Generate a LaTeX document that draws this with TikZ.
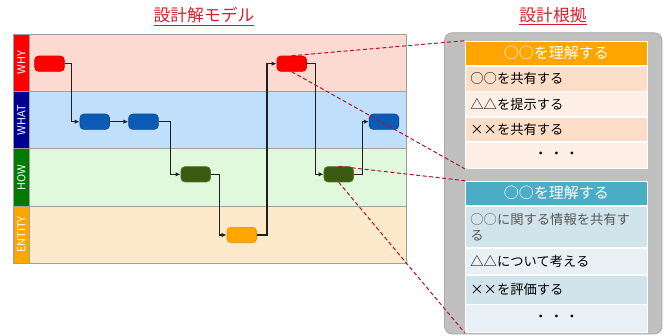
\documentclass[tikz,border=0pt]{standalone}
\usepackage{fontspec}
\setmainfont{Noto Sans CJK JP}
\usetikzlibrary{arrows.meta}
\definecolor{whyband}{HTML}{FCDAD2}
\definecolor{whatband}{HTML}{BFDFFA}
\definecolor{howband}{HTML}{E0F9DD}
\definecolor{entband}{HTML}{FCEACA}
\definecolor{whystrip}{HTML}{FF0000}
\definecolor{whatstrip}{HTML}{000090}
\definecolor{howstrip}{HTML}{007A00}
\definecolor{entstrip}{HTML}{FFA500}
\definecolor{nred}{HTML}{FF0000}
\definecolor{nredb}{HTML}{D00000}
\definecolor{nblue}{HTML}{0A5BB5}
\definecolor{nblueb}{HTML}{0A489A}
\definecolor{ngreen}{HTML}{3A5A12}
\definecolor{ngreenb}{HTML}{56782A}
\definecolor{norange}{HTML}{FFA500}
\definecolor{norangeb}{HTML}{E89400}
\definecolor{boxgray}{HTML}{C0C0C0}
\definecolor{boxgrayb}{HTML}{A8A8A8}
\definecolor{hdorange}{HTML}{FFA500}
\definecolor{rowpa}{HTML}{FCDEC8}
\definecolor{rowpb}{HTML}{FDEFE6}
\definecolor{hdblue}{HTML}{4BACC6}
\definecolor{rowba}{HTML}{D1E3EB}
\definecolor{rowbb}{HTML}{E8F0F5}
\definecolor{dashred}{HTML}{B8102A}
\definecolor{titlered}{HTML}{D02030}
\definecolor{bandline}{HTML}{A0A0A0}
\newcommand{\fwx}{\makebox[1em]{×}}
\tikzset{
  band/.style={draw=bandline, line width=0.8pt},
  striplabel/.style={rotate=90, text=white, font=\fontsize{11}{12}\selectfont},
  flownode/.style={rectangle, rounded corners=4pt, minimum width=29.6pt, minimum height=15.3pt, inner sep=0pt, line width=0.7pt},
  conn/.style={draw=black!88, line width=1.3pt, -{Latex[length=5pt,width=4.5pt]}},
  hdcell/.style={rectangle, anchor=north west, minimum width=182pt, minimum height=24.4pt, inner sep=0pt, text=white, font=\fontsize{15}{17}\selectfont, draw=white, line width=0.8pt},
  rowcell/.style={rectangle, anchor=north west, minimum width=182pt, inner sep=0pt, font=\fontsize{13.3}{16}\selectfont, draw=white, line width=0.8pt, align=left, text width=172pt},
  dashlink/.style={draw=dashred, line width=1pt, dash pattern=on 4pt off 2.5pt},
  titletext/.style={text=titlered, font=\fontsize{16.8}{19}\selectfont}
}
\begin{document}
\begin{tikzpicture}[x=1pt,y=-1pt]
\useasboundingbox (0,0) rectangle (671,335);
% titles
\node[titletext] (t1) at (204,16.5) {\underline{設計解モデル}};
\node[titletext] (t2) at (553,16) {\underline{設計根拠}};
% bands
\fill[whyband] (29.3,34) rectangle (406.7,91.3);
\fill[whatband] (29.3,91.3) rectangle (406.7,148.7);
\fill[howband] (29.3,148.7) rectangle (406.7,206);
\fill[entband] (29.3,206) rectangle (406.7,263.3);
\fill[whystrip] (13.5,34) rectangle (29.3,91.3);
\fill[whatstrip] (13.5,91.3) rectangle (29.3,148.7);
\fill[howstrip] (13.5,148.7) rectangle (29.3,206);
\fill[entstrip] (13.5,206) rectangle (29.3,263.3);
\draw[band] (13.5,34) rectangle (406.7,91.3);
\draw[band] (13.5,91.3) rectangle (406.7,148.7);
\draw[band] (13.5,148.7) rectangle (406.7,206);
\draw[band] (13.5,206) rectangle (406.7,263.3);
\draw[band] (29.3,34) -- (29.3,263.3);
\node[striplabel] (lwhy) at (21.4,62.6) {WHY};
\node[striplabel] (lwhat) at (21.4,120) {WHAT};
\node[striplabel] (lhow) at (21.4,177.3) {HOW};
\node[striplabel] (lent) at (21.4,234.6) {ENTITY};
% flow nodes
\node[flownode, fill=nred, draw=nredb] (r1) at (49.5,63.7) {};
\node[flownode, fill=nblue, draw=nblueb] (b1) at (94.7,121.7) {};
\node[flownode, fill=nblue, draw=nblueb] (b2) at (143.5,121.7) {};
\node[flownode, fill=ngreen, draw=ngreenb] (g1) at (195.7,174.3) {};
\node[flownode, fill=norange, draw=norangeb] (o1) at (241.7,235) {};
\node[flownode, fill=nred, draw=nredb] (r2) at (291.7,63.7) {};
\node[flownode, fill=ngreen, draw=ngreenb] (g2) at (338.7,174.3) {};
\node[flownode, fill=nblue, draw=nblueb] (b3) at (384,121.7) {};
% connectors
\draw[conn] (r1.east) -- ++(6.7,0) |- (b1.west);
\draw[conn] (b1.east) -- (b2.west);
\draw[conn] (b2.east) -- ++(11.7,0) |- (g1.west);
\draw[conn] (g1.east) -- ++(8.6,0) |- (o1.west);
\draw[conn] (o1.east) -- ++(10,0) |- (r2.west);
\draw[conn] (r2.east) -- ++(8.3,0) |- (g2.west);
\draw[conn] (g2.east) -- ++(8.4,0) |- (b3.west);
% right gray box
\draw[fill=boxgray, draw=boxgrayb, line width=0.8pt, rounded corners=8pt] (444.5,32.7) rectangle (662,334);
% table 1
\node[hdcell, fill=hdorange] (h1) at (465,40.7) {○○を理解する};
\node[rowcell, fill=rowpa, minimum height=24.6pt] (p1) at (h1.south west) {○○を共有する};
\node[rowcell, fill=rowpb, minimum height=24.6pt] (p2) at (p1.south west) {△△を提示する};
\node[rowcell, fill=rowpa, minimum height=24.6pt] (p3) at (p2.south west) {\fwx\fwx を共有する};
\node[rowcell, fill=rowpb, minimum height=26pt, align=center] (p4) at (p3.south west) {・\,・\,・};
% table 2
\node[hdcell, fill=hdblue] (h2) at (465,180.7) {○○を理解する};
\node[rowcell, fill=rowba, minimum height=41pt, text=black!65] (q1) at (h2.south west) {○○に関する情報を共有す\\る};
\node[rowcell, fill=rowbb, minimum height=26pt] (q2) at (q1.south west) {△△について考える};
\node[rowcell, fill=rowba, minimum height=29pt] (q3) at (q2.south west) {\fwx\fwx を評価する};
\node[rowcell, fill=rowbb, minimum height=28pt, align=center] (q4) at (q3.south west) {・\,・\,・};
% dashed links
\draw[dashlink] (r2.north) -- (h1.north west);
\draw[dashlink] (r2.south) -- (p4.south west);
\draw[dashlink] (g2.north) -- (h2.north west);
\draw[dashlink] (g2.south) -- (q4.south west);
\end{tikzpicture}
\end{document}
